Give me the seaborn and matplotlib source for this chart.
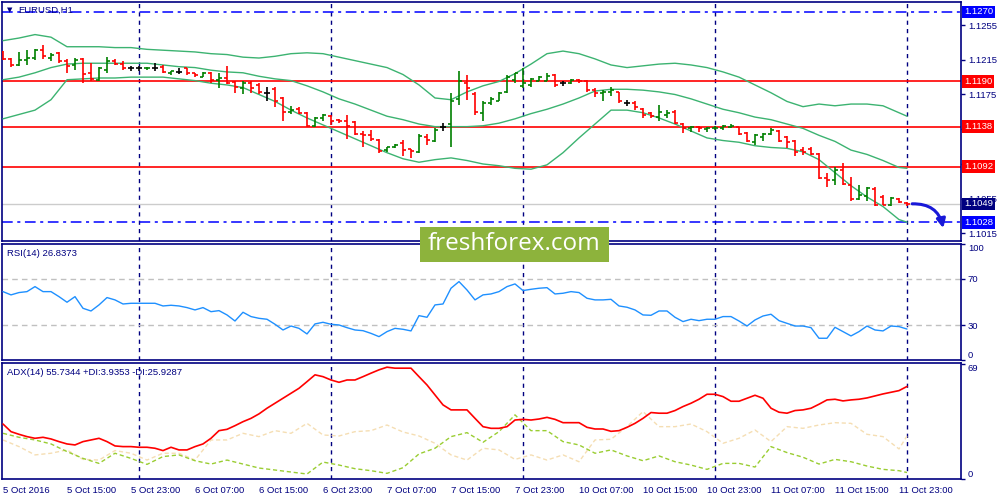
import numpy as np
import matplotlib
matplotlib.use("Agg")
import matplotlib.pyplot as plt
import seaborn as sns
from matplotlib.patches import Rectangle
from matplotlib.transforms import blended_transform_factory

sns.set_style("white")
plt.rcParams['font.family'] = ['Liberation Sans', 'DejaVu Sans']

# EURUSD H1 bars, 5 Oct 07:00 .. 12 Oct 00:00
bar_open = [1.1224, 1.1216, 1.1209, 1.1215, 1.1217, 1.1226, 1.1217, 1.1223, 1.1214, 1.1209,
            1.1216, 1.1200, 1.1192, 1.1203, 1.1214, 1.1210, 1.1205, 1.1206, 1.1205, 1.1206,
            1.1207, 1.1200, 1.1201, 1.1205, 1.1200, 1.1195, 1.1200, 1.1192, 1.1194, 1.1189,
            1.1183, 1.1188, 1.1186, 1.1177, 1.1181, 1.1171, 1.1155, 1.1158, 1.1154, 1.1139,
            1.1148, 1.1150, 1.1146, 1.1144, 1.1143, 1.1129, 1.1128, 1.1123, 1.1111, 1.1114,
            1.1119, 1.1112, 1.1109, 1.1126, 1.1121, 1.1138, 1.1141, 1.1170, 1.1188, 1.1176,
            1.1154, 1.1165, 1.1168, 1.1178, 1.1192, 1.1185, 1.1186, 1.1191, 1.1191, 1.1198,
            1.1188, 1.1188, 1.1192, 1.1191, 1.1180, 1.1177, 1.1178, 1.1178, 1.1165, 1.1165,
            1.1158, 1.1154, 1.1149, 1.1151, 1.1155, 1.1141, 1.1136, 1.1138, 1.1135, 1.1136,
            1.1136, 1.1138, 1.1138, 1.1131, 1.1120, 1.1126, 1.1130, 1.1133, 1.1126, 1.1121,
            1.1111, 1.1112, 1.1107, 1.1079, 1.1077, 1.1088, 1.1071, 1.1055, 1.1058, 1.1066,
            1.1057, 1.1048, 1.1055, 1.1050]
bar_high = [1.1225, 1.1217, 1.1224, 1.1226, 1.1227, 1.1232, 1.1223, 1.1224, 1.1216, 1.1217,
            1.1217, 1.1211, 1.1207, 1.1218, 1.1216, 1.1214, 1.1208, 1.1208, 1.1207, 1.1211,
            1.1209, 1.1202, 1.1205, 1.1206, 1.1200, 1.1201, 1.1201, 1.1200, 1.1208, 1.1190,
            1.1190, 1.1190, 1.1188, 1.1184, 1.1184, 1.1172, 1.1162, 1.1161, 1.1155, 1.1149,
            1.1153, 1.1151, 1.1147, 1.1151, 1.1145, 1.1133, 1.1134, 1.1124, 1.1115, 1.1118,
            1.1123, 1.1112, 1.1129, 1.1129, 1.1137, 1.1142, 1.1177, 1.1202, 1.1198, 1.1178,
            1.1167, 1.1172, 1.1178, 1.1198, 1.1200, 1.1206, 1.1194, 1.1196, 1.1200, 1.1199,
            1.1191, 1.1193, 1.1193, 1.1192, 1.1183, 1.1180, 1.1184, 1.1178, 1.1169, 1.1167,
            1.1160, 1.1155, 1.1163, 1.1157, 1.1157, 1.1142, 1.1139, 1.1139, 1.1138, 1.1139,
            1.1140, 1.1141, 1.1138, 1.1132, 1.1129, 1.1131, 1.1137, 1.1134, 1.1127, 1.1123,
            1.1115, 1.1115, 1.1108, 1.1085, 1.1092, 1.1096, 1.1080, 1.1071, 1.1069, 1.1068,
            1.1059, 1.1057, 1.1056, 1.1051]
bar_low = [1.1215, 1.1207, 1.1208, 1.1209, 1.1215, 1.1216, 1.1213, 1.1211, 1.1200, 1.1203,
           1.1188, 1.1191, 1.1191, 1.1200, 1.1209, 1.1203, 1.1202, 1.1202, 1.1203, 1.1202,
           1.1200, 1.1198, 1.1199, 1.1198, 1.1195, 1.1195, 1.1188, 1.1182, 1.1187, 1.1177,
           1.1176, 1.1177, 1.1175, 1.1168, 1.1161, 1.1144, 1.1152, 1.1153, 1.1138, 1.1138,
           1.1144, 1.1140, 1.1142, 1.1124, 1.1128, 1.1115, 1.1121, 1.1108, 1.1109, 1.1113,
           1.1104, 1.1102, 1.1108, 1.1117, 1.1120, 1.1133, 1.1114, 1.1163, 1.1169, 1.1151,
           1.1144, 1.1163, 1.1167, 1.1177, 1.1188, 1.1183, 1.1184, 1.1190, 1.1190, 1.1184,
           1.1185, 1.1187, 1.1188, 1.1178, 1.1172, 1.1167, 1.1173, 1.1165, 1.1162, 1.1157,
           1.1148, 1.1148, 1.1145, 1.1148, 1.1141, 1.1131, 1.1132, 1.1132, 1.1132, 1.1134,
           1.1134, 1.1136, 1.1128, 1.1120, 1.1117, 1.1122, 1.1128, 1.1120, 1.1113, 1.1104,
           1.1105, 1.1105, 1.1078, 1.1069, 1.1071, 1.1071, 1.1052, 1.1054, 1.1052, 1.1047,
           1.1048, 1.1047, 1.1050, 1.1047]
bar_close = [1.1216, 1.1209, 1.1215, 1.1217, 1.1226, 1.1219, 1.1221, 1.1213, 1.1208, 1.1215,
             1.1199, 1.1193, 1.1205, 1.1214, 1.1210, 1.1205, 1.1205, 1.1206, 1.1206, 1.1206,
             1.1201, 1.1202, 1.1201, 1.1200, 1.1197, 1.1200, 1.1192, 1.1194, 1.1188, 1.1184,
             1.1188, 1.1182, 1.1178, 1.1177, 1.1168, 1.1155, 1.1157, 1.1154, 1.1139, 1.1148,
             1.1151, 1.1144, 1.1144, 1.1139, 1.1130, 1.1128, 1.1124, 1.1110, 1.1114, 1.1117,
             1.1111, 1.1110, 1.1127, 1.1123, 1.1134, 1.1138, 1.1167, 1.1190, 1.1183, 1.1155,
             1.1165, 1.1170, 1.1177, 1.1195, 1.1200, 1.1188, 1.1193, 1.1195, 1.1196, 1.1186,
             1.1188, 1.1192, 1.1190, 1.1180, 1.1177, 1.1178, 1.1180, 1.1167, 1.1165, 1.1161,
             1.1151, 1.1150, 1.1155, 1.1154, 1.1142, 1.1137, 1.1138, 1.1137, 1.1137, 1.1137,
             1.1139, 1.1139, 1.1130, 1.1121, 1.1128, 1.1130, 1.1134, 1.1121, 1.1120, 1.1109,
             1.1109, 1.1107, 1.1079, 1.1077, 1.1088, 1.1072, 1.1055, 1.1059, 1.1067, 1.1048,
             1.1048, 1.1056, 1.1051, 1.1049]

# Bollinger bands, read every second bar (+ last bar)
bb_idx = list(range(0, 113, 2)) + [113]
bb_upper = [1.1237, 1.1240, 1.1244, 1.1241, 1.1230, 1.1230, 1.1230, 1.1229, 1.1229, 1.1227,
            1.1226, 1.1225, 1.1224, 1.1222, 1.1221, 1.1218, 1.1217, 1.1219, 1.1222, 1.1223,
            1.1222, 1.1218, 1.1214, 1.1210, 1.1206, 1.1198, 1.1186, 1.1171, 1.1169, 1.1178,
            1.1185, 1.1190, 1.1199, 1.1210, 1.1222, 1.1225, 1.1222, 1.1216, 1.1209, 1.1206,
            1.1208, 1.1210, 1.1211, 1.1209, 1.1206, 1.1201, 1.1195, 1.1186, 1.1177, 1.1167,
            1.1161, 1.1164, 1.1162, 1.1164, 1.1164, 1.1162, 1.1154, 1.1150]
bb_middle = [1.1192, 1.1195, 1.1200, 1.1206, 1.1210, 1.1211, 1.1211, 1.1211, 1.1211, 1.1211,
             1.1209, 1.1207, 1.1206, 1.1203, 1.1201, 1.1200, 1.1196, 1.1193, 1.1191, 1.1185,
             1.1178, 1.1170, 1.1164, 1.1157, 1.1150, 1.1146, 1.1141, 1.1138, 1.1138, 1.1138,
             1.1139, 1.1142, 1.1147, 1.1153, 1.1158, 1.1164, 1.1171, 1.1179, 1.1181, 1.1181,
             1.1180, 1.1178, 1.1175, 1.1170, 1.1164, 1.1158, 1.1154, 1.1149, 1.1146, 1.1141,
             1.1136, 1.1128, 1.1121, 1.1111, 1.1106, 1.1099, 1.1091, 1.1090]
bb_lower = [1.1147, 1.1152, 1.1157, 1.1169, 1.1192, 1.1193, 1.1194, 1.1194, 1.1195, 1.1195,
            1.1195, 1.1193, 1.1191, 1.1188, 1.1186, 1.1183, 1.1175, 1.1167, 1.1157, 1.1148,
            1.1140, 1.1132, 1.1124, 1.1116, 1.1108, 1.1101, 1.1097, 1.1100, 1.1102, 1.1099,
            1.1095, 1.1093, 1.1090, 1.1089, 1.1094, 1.1108, 1.1125, 1.1141, 1.1157, 1.1157,
            1.1154, 1.1148, 1.1141, 1.1133, 1.1125, 1.1122, 1.1120, 1.1116, 1.1114, 1.1113,
            1.1109, 1.1100, 1.1085, 1.1070, 1.1057, 1.1046, 1.1031, 1.1028]

rsi = [58.9, 56.1, 58.1, 58.9, 63.2, 58.9, 58.9, 54.6, 49.8, 54.6,
       44.6, 42.3, 47.5, 53.8, 51.8, 48.3, 48.9, 48.9, 48.9, 48.9,
       46.6, 47.2, 46.6, 45.2, 43.2, 45.2, 41.7, 42.6, 38.9, 33.7,
       41.2, 37.5, 36.0, 35.2, 30.9, 26.0, 29.4, 27.4, 22.6, 31.2,
       32.6, 30.9, 30.3, 28.0, 26.0, 25.4, 23.1, 20.3, 24.6, 27.4,
       26.6, 25.2, 38.3, 36.9, 47.5, 48.3, 61.8, 67.5, 60.3, 51.8,
       56.1, 56.9, 58.9, 63.2, 65.5, 59.8, 60.9, 61.8, 62.3, 56.9,
       57.5, 58.9, 58.1, 53.2, 51.8, 51.8, 52.3, 46.6, 45.5, 43.2,
       38.9, 38.6, 42.3, 42.3, 36.9, 33.2, 35.2, 34.0, 35.2, 35.2,
       37.5, 37.5, 33.7, 29.4, 34.6, 38.0, 39.5, 34.0, 31.7, 29.4,
       29.4, 28.0, 18.9, 18.9, 28.3, 24.6, 20.9, 24.6, 29.4, 26.0,
       25.2, 29.4, 28.9, 26.8]

adx = [33.1, 28.5, 26.9, 25.5, 24.5, 25.1, 24.1, 22.5, 21.1, 20.5,
       22.5, 23.5, 24.5, 22.5, 19.9, 19.5, 19.5, 19.1, 19.1, 18.5,
       17.1, 19.1, 17.5, 17.5, 19.5, 21.1, 24.5, 29.1, 29.9, 32.1,
       34.5, 36.5, 39.2, 42.6, 45.6, 48.6, 51.6, 54.6, 58.6, 62.7,
       61.6, 59.6, 58.2, 59.6, 59.6, 61.6, 63.7, 65.7, 67.3, 66.7,
       66.7, 66.7, 61.6, 56.6, 50.6, 44.6, 41.6, 41.6, 41.6, 36.5,
       31.5, 30.5, 30.5, 31.5, 35.5, 35.9, 35.5, 36.1, 37.1, 35.9,
       33.9, 33.9, 33.9, 31.1, 30.1, 30.1, 28.7, 29.1, 31.1, 33.5,
       36.5, 40.0, 39.6, 39.6, 41.2, 43.6, 45.6, 48.0, 51.0, 51.0,
       49.6, 46.8, 46.8, 48.6, 50.4, 48.6, 42.6, 40.2, 39.6, 41.2,
       41.6, 42.6, 45.0, 47.6, 48.0, 47.0, 47.6, 48.0, 48.8, 50.0,
       51.2, 52.2, 53.2, 55.7]
plus_di = [27.5, 25.1, 23.5, 21.1, 16.5, 12.4, 9.4, 15.5, 12.4, 8.8,
           13.5, 14.5, 11.0, 9.0, 11.4, 9.0, 6.6, 5.4, 4.2, 3.0,
           10.2, 8.4, 6.2, 5.0, 3.4, 6.8, 15.1, 18.5, 25.5, 27.9,
           22.1, 28.5, 38.6, 29.1, 29.1, 22.5, 20.5, 15.5, 17.5, 13.9,
           11.0, 13.9, 10.4, 8.4, 5.8, 9.4, 9.4, 7.2, 19.5, 15.9,
           13.1, 9.0, 11.8, 10.4, 7.8, 5.8, 5.0, 3.9]
minus_di = [23.5, 19.5, 14.5, 15.5, 17.5, 11.8, 11.4, 17.1, 15.5, 11.4,
            15.5, 15.5, 11.4, 23.5, 23.5, 27.5, 25.5, 29.1, 27.5, 33.5,
            26.5, 25.9, 28.5, 29.1, 32.5, 28.3, 25.9, 21.5, 14.5, 11.4,
            18.5, 17.5, 11.8, 14.5, 11.4, 14.5, 10.4, 23.5, 23.9, 31.5,
            40.6, 31.5, 31.5, 33.1, 28.5, 21.5, 24.5, 29.5, 22.5, 31.5,
            30.5, 32.5, 33.9, 33.5, 26.9, 25.5, 18.1, 25.9]

resistance = [1.1190, 1.1138, 1.1092]
level_top, level_low = 1.1270, 1.1028
price_ticks = [1.1255, 1.1215, 1.1175, 1.1135, 1.1095, 1.1055, 1.1015]
hidden_ticks = [1.1135, 1.1095]   # covered by the level boxes in the terminal
day_breaks = [17, 41, 65, 89, 113]
date_labels = ["5 Oct 2016", "5 Oct 15:00", "5 Oct 23:00", "6 Oct 07:00", "6 Oct 15:00",
               "6 Oct 23:00", "7 Oct 07:00", "7 Oct 15:00", "7 Oct 23:00", "10 Oct 07:00",
               "10 Oct 15:00", "10 Oct 23:00", "11 Oct 07:00", "11 Oct 15:00", "11 Oct 23:00"]

NAVY = '#000080'
FS = 6.8

fig = plt.figure(figsize=(10, 5), dpi=100)
fig.patch.set_facecolor('white')
ax = fig.add_axes([0.002, 0.519, 0.959, 0.477])
ax_rsi = fig.add_axes([0.002, 0.2794, 0.959, 0.2332])
ax_adx = fig.add_axes([0.002, 0.042, 0.959, 0.2326])

for a in (ax, ax_rsi, ax_adx):
    a.set_facecolor('white')
    a.set_xlim(-0.125, 119.75)
    for s in a.spines.values():
        s.set_color(NAVY)
        s.set_linewidth(1.2)
    for b in day_breaks:
        a.axvline(b, color=NAVY, lw=1, ls=(0, (3, 3)), zorder=1)
    a.yaxis.tick_right()
    a.tick_params(axis='y', colors=NAVY, labelcolor=NAVY, labelsize=FS, length=3, pad=2, width=1)
    a.grid(False)

# ---- price panel ----
ax.set_ylim(1.10069, 1.12815)
for r in resistance:
    ax.axhline(r, color='#ff0000', lw=1.2, zorder=2)
ax.axhline(level_top, color='#0000ff', lw=1.1, ls=(0, (7, 3, 2, 3)), zorder=2)
ax.axhline(level_low, color='#0000ff', lw=1.1, ls=(0, (7, 3, 2, 3)), zorder=2)
ax.axhline(bar_close[-1], color='#cccccc', lw=1, zorder=1.5)

for band in (bb_upper, bb_middle, bb_lower):
    sns.lineplot(x=bb_idx, y=band, ax=ax, color='#3cb371', lw=1, estimator=None, zorder=3)

idx = np.arange(len(bar_close))
o, h, l, c = (np.array(v) for v in (bar_open, bar_high, bar_low, bar_close))
cols = np.where(c > o, '#008000', np.where(c < o, '#ff0000', '#000000'))
ax.vlines(idx, l, h, colors=cols, lw=1.2, zorder=4)
ax.hlines(o, idx - 0.42, idx, colors=cols, lw=1.2, zorder=4)
ax.hlines(c, idx, idx + 0.42, colors=cols, lw=1.2, zorder=4)

ax.set_xticks([])
ax.set_yticks(price_ticks)
ax.set_yticklabels(["" if p in hidden_ticks else f"{p:.4f}" for p in price_ticks])

tr = blended_transform_factory(ax.transAxes, ax.transData)
boxed = [(level_top, '#0000ff'), (resistance[0], '#ff0000'), (resistance[1], '#ff0000'),
         (resistance[2], '#ff0000'), (bar_close[-1], NAVY), (level_low, '#0000ff')]
for val, fc in boxed:
    ax.text(1.003, val, f"{val:.4f}", transform=tr, color='white', fontsize=FS,
            va='center', ha='left', clip_on=False, zorder=6,
            bbox=dict(boxstyle='square,pad=0.2', fc=fc, ec='none'))

ax.text(0.005, 0.966, "\u25bc", transform=ax.transAxes, fontsize=5, color=NAVY,
        va='center', ha='left', family=['DejaVu Sans'])
ax.text(0.017, 0.966, "EURUSD,H1", transform=ax.transAxes, fontsize=FS, color=NAVY,
        va='center', ha='left')

ax.annotate("", xy=(idx[-1] + 4.6, level_low - 0.0010), xytext=(idx[-1] + 0.3, bar_close[-1]),
            arrowprops=dict(arrowstyle='-|>', color='#1818d8', lw=2.2, mutation_scale=13,
                            connectionstyle='arc3,rad=-0.45'),
            annotation_clip=False, zorder=7)

# ---- RSI ----
ax_rsi.set_ylim(0, 100)
for lv in (70, 30):
    ax_rsi.axhline(lv, color='#c0c0c0', lw=1, ls=(0, (4, 3)), zorder=1)
sns.lineplot(x=idx, y=rsi, ax=ax_rsi, color='#1e90ff', lw=1, estimator=None, zorder=3)
ax_rsi.set_xticks([])
ax_rsi.set_yticks([0, 30, 70, 100])
ax_rsi.set_yticklabels(['0', '30', '70', '100'])
ticks = ax_rsi.yaxis.get_major_ticks()
ticks[0].label2.set_va('bottom')
ticks[-1].label2.set_va('top')
ax_rsi.text(0.005, 0.92, "RSI(14) 26.8373", transform=ax_rsi.transAxes, fontsize=FS,
            color=NAVY, va='center', ha='left')

# ---- ADX ----
ax_adx.set_ylim(0, 70)
sns.lineplot(x=bb_idx, y=minus_di, ax=ax_adx, color='#f5deb3', lw=1, ls=(0, (3, 2)), estimator=None, zorder=2)
sns.lineplot(x=bb_idx, y=plus_di, ax=ax_adx, color='#9acd32', lw=1, ls=(0, (3, 2)), estimator=None, zorder=2)
sns.lineplot(x=idx, y=adx, ax=ax_adx, color='#ff0000', lw=1.2, estimator=None, zorder=3)
ax_adx.set_yticks([0, 69])
ax_adx.set_yticklabels(['0', '69'])
ticks = ax_adx.yaxis.get_major_ticks()
ticks[0].label2.set_va('bottom')
ticks[-1].label2.set_va('top')
ax_adx.set_xticks(list(range(0, 113, 8)))
ax_adx.set_xticklabels(date_labels, ha='left')
ax_adx.tick_params(axis='x', colors=NAVY, labelcolor=NAVY, labelsize=FS, length=3, pad=2, width=1)
ax_adx.text(0.005, 0.92, "ADX(14) 55.7344 +DI:3.9353 -DI:25.9287", transform=ax_adx.transAxes,
            fontsize=FS, color=NAVY, va='center', ha='left')

for a in (ax, ax_rsi, ax_adx):
    a.set_xlabel('')
    a.set_ylabel('')

# watermark
fig.add_artist(Rectangle((0.420, 0.476), 0.189, 0.070, transform=fig.transFigure,
                         fc='#8db33c', ec='none', zorder=10))
fig.text(0.5145, 0.511, "freshforex.com", color='white', fontsize=17.5, ha='center',
         va='center', family=['Open Sans', 'DejaVu Sans'], zorder=11)

fig.savefig('out.png', dpi=100, facecolor='white')
